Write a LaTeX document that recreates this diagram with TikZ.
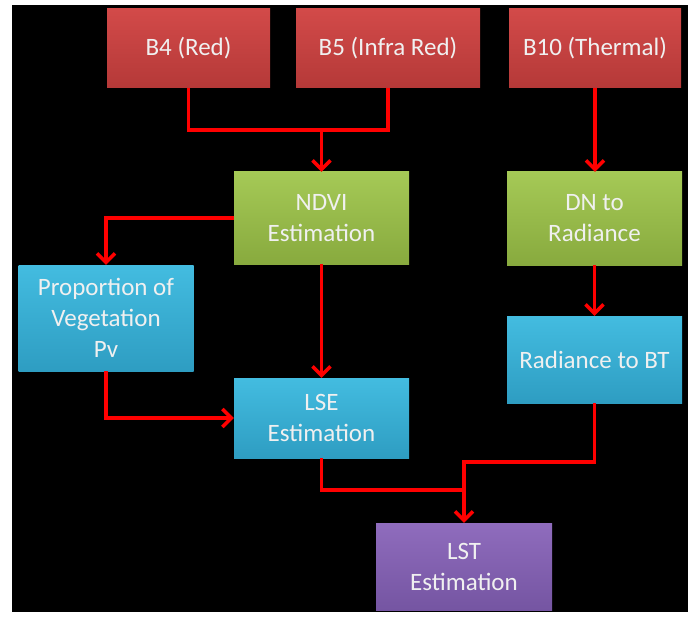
\documentclass[tikz,border=0pt]{standalone}
\usepackage{fontspec}
\setmainfont{Carlito}
\usetikzlibrary{arrows.meta,calc,positioning}
\definecolor{redtop}{HTML}{D24A49}
\definecolor{redbot}{HTML}{B53938}
\definecolor{greentop}{HTML}{A5C956}
\definecolor{greenbot}{HTML}{88AA3E}
\definecolor{bluetop}{HTML}{43BCE0}
\definecolor{bluebot}{HTML}{2E9DC2}
\definecolor{purptop}{HTML}{8F6CBD}
\definecolor{purpbot}{HTML}{7555A2}
\definecolor{boxtext}{HTML}{F0F0F0}
\tikzset{
  box/.style={inner sep=0pt, align=center, text=boxtext,
    font=\fontsize{25}{31}\selectfont},
  redbox/.style={box, top color=redtop, bottom color=redbot},
  greenbox/.style={box, top color=greentop, bottom color=greenbot},
  bluebox/.style={box, top color=bluetop, bottom color=bluebot},
  purpbox/.style={box, top color=purptop, bottom color=purpbot},
  link/.style={red, line width=3.5pt},
  arr/.style={link, -{Straight Barb[length=9pt,width=18pt]}}
}
\begin{document}
\begin{tikzpicture}[x=1pt,y=-1pt]
            \def\w{175}
            \fill[white] (0,0) rectangle (698,620);
            \fill[black] (12,5) rectangle (688,612);
            \useasboundingbox (0,0) rectangle (698,620);
            \node[redbox, minimum width=163, minimum height=79] (b4) at (188.5,48.5) {B4 (Red)};
            \node[redbox, minimum width=184, minimum height=79] (b5) at (388,48.5) {B5 (Infra Red)};
            \node[redbox, minimum width=172, minimum height=79] (b10) at (595,48.5) {B10 (Thermal)};
            \node[greenbox, minimum width=\w, minimum height=92] (ndvi) at (321.5,218) {NDVI\\Estimation};
            \node[greenbox, minimum width=\w, minimum height=93] (dn) at (594.5,218.5) {DN to\\Radiance};
            \node[bluebox, minimum width=\w, minimum height=106] (pv) at (106,318) {Proportion of\\Vegetation\\Pv};
            \node[bluebox, minimum width=\w, minimum height=80] (lse) at (321.5,418) {LSE\\Estimation};
            \node[bluebox, minimum width=\w, minimum height=87] (bt) at (594.5,359.5) {Radiance to BT};
            \node[purpbox, minimum width=176, minimum height=87] (lst) at (464,566.5) {LST\\Estimation};
            \coordinate (mrg) at (321.5,130);
            \coordinate (jbt) at (464,462);
            \coordinate (jlse) at (464,490);
            \draw[link] (b4.south) |- (mrg) -| (b5.south);
            \draw[arr] (mrg) -- (ndvi.north);
            \draw[arr] (ndvi.west) -| (pv.north);
            \draw[arr] (pv.south) |- (lse.west);
            \draw[arr] (ndvi.south) -- (lse.north);
            \draw[arr] (b10.south) -- (b10.south |- dn.north);
            \draw[arr] (dn.south) -- (bt.north);
            \draw[link] (lse.south) |- (jlse);
            \draw[arr] (bt.south) |- (jbt) -- (lst.north);
          \end{tikzpicture}
\end{document}
